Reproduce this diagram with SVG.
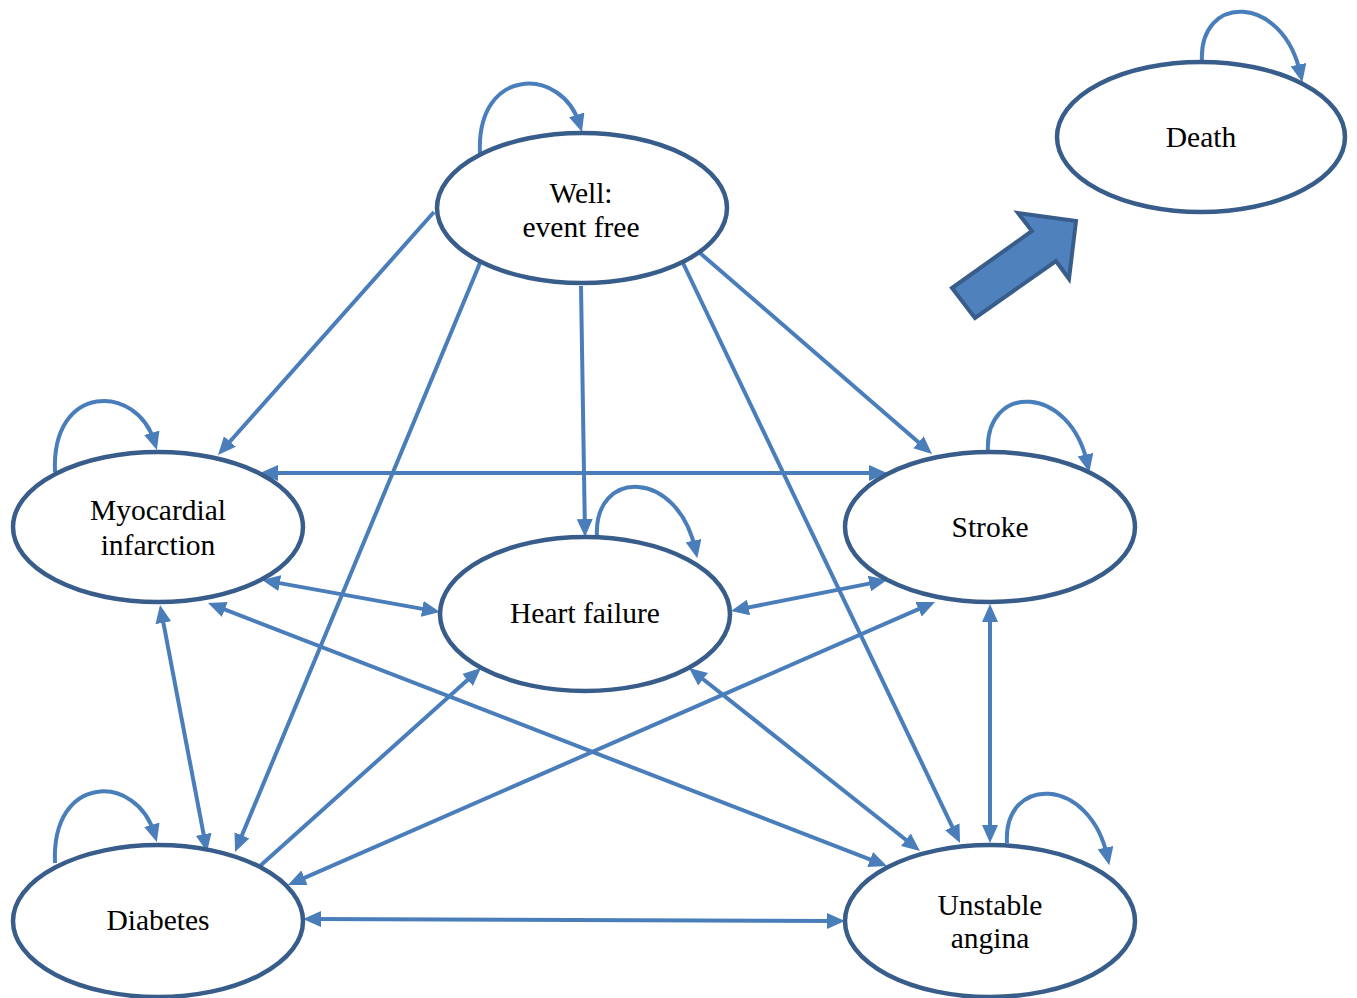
<svg xmlns="http://www.w3.org/2000/svg" width="1357" height="998" viewBox="0 0 1357 998">
<style>
.node ellipse{fill:#fff;stroke:#385D8A;stroke-width:4.5}
.node text{font-family:"Liberation Serif","Times New Roman",serif;font-size:29.5px;fill:#000;text-anchor:middle}
#connectors path,#connectors line{fill:none;stroke:#4A7EBB;stroke-width:4}
.one{marker-end:url(#ah)}
.two{marker-end:url(#ah);marker-start:url(#ah)}
</style>
<defs>
<marker id="ah" markerUnits="userSpaceOnUse" markerWidth="18" markerHeight="16" refX="10" refY="8" orient="auto-start-reverse" viewBox="0 0 18 16">
<path d="M0,0 L18,8 L0,16 z" fill="#4A7EBB"/>
</marker>
</defs>
<rect width="1357" height="998" fill="#fff"/>
<g id="connectors">
<path class="one" d="M480,153 C476,66 562,66 579.6,124.4"/>
<path class="one" d="M55,472 C51,383 137,383 154.6,442.4"/>
<path class="one" d="M988,452 C984,383 1070,383 1087.6,464.4"/>
<path class="one" d="M597,537 C593,468 678,468 695.6,550.4"/>
<path class="one" d="M55,863 C51,773 137,773 154.6,834.4"/>
<path class="one" d="M1007,843 C1003,775 1090,775 1107.6,857.4"/>
<path class="one" d="M1202,62 C1198,-7 1283,-7 1300.6,74.4"/>
<line class="one" x1="434" y1="212" x2="223.3" y2="449"/>
<line class="one" x1="480" y1="263" x2="238.1" y2="844.6"/>
<line class="one" x1="581" y1="286" x2="584.9" y2="529"/>
<line class="one" x1="683" y1="263" x2="956.6" y2="835.8"/>
<line class="one" x1="700" y1="253" x2="926" y2="448.8"/>
<line class="two" x1="268" y1="473" x2="879" y2="473"/>
<line class="two" x1="269.9" y1="581.4" x2="432.1" y2="610.6"/>
<line class="two" x1="161.5" y1="612.9" x2="205.5" y2="844.1"/>
<line class="two" x1="215.5" y1="605.9" x2="879.5" y2="863.1"/>
<line class="one" x1="260" y1="866" x2="475" y2="673.3"/>
<line class="two" x1="738.8" y1="609.4" x2="879.2" y2="581.6"/>
<line class="two" x1="695.3" y1="673" x2="913.7" y2="846"/>
<line class="two" x1="927.7" y1="605.2" x2="295.3" y2="881.8"/>
<line class="two" x1="990" y1="612" x2="990" y2="835"/>
<line class="two" x1="311" y1="919" x2="837" y2="921"/>
</g>
<g id="well" class="node">
<ellipse cx="582" cy="208" rx="145" ry="75"/>
<text x="581" y="203">Well:</text>
<text x="581" y="237">event free</text>
</g>
<g id="death" class="node">
<ellipse cx="1201" cy="137" rx="144" ry="75"/>
<text x="1201" y="147">Death</text>
</g>
<g id="mi" class="node">
<ellipse cx="158" cy="527" rx="145" ry="75"/>
<text x="158" y="520">Myocardial</text>
<text x="158" y="555">infarction</text>
</g>
<g id="stroke" class="node">
<ellipse cx="990" cy="527" rx="145" ry="75"/>
<text x="990" y="537">Stroke</text>
</g>
<g id="hf" class="node">
<ellipse cx="585" cy="614" rx="145" ry="77"/>
<text x="585" y="623">Heart failure</text>
</g>
<g id="diabetes" class="node">
<ellipse cx="158" cy="921" rx="145" ry="76"/>
<text x="158" y="930">Diabetes</text>
</g>
<g id="ua" class="node">
<ellipse cx="990" cy="921" rx="145" ry="76"/>
<text x="990" y="915">Unstable</text>
<text x="990" y="948">angina</text>
</g>
<g id="death-arrow">
<polygon points="952,288 1032,231 1018,213 1076,221 1069,279 1056,261 975,318" fill="#4F81BD" stroke="#385D8A" stroke-width="4" stroke-linejoin="miter"/>
</g>
</svg>
